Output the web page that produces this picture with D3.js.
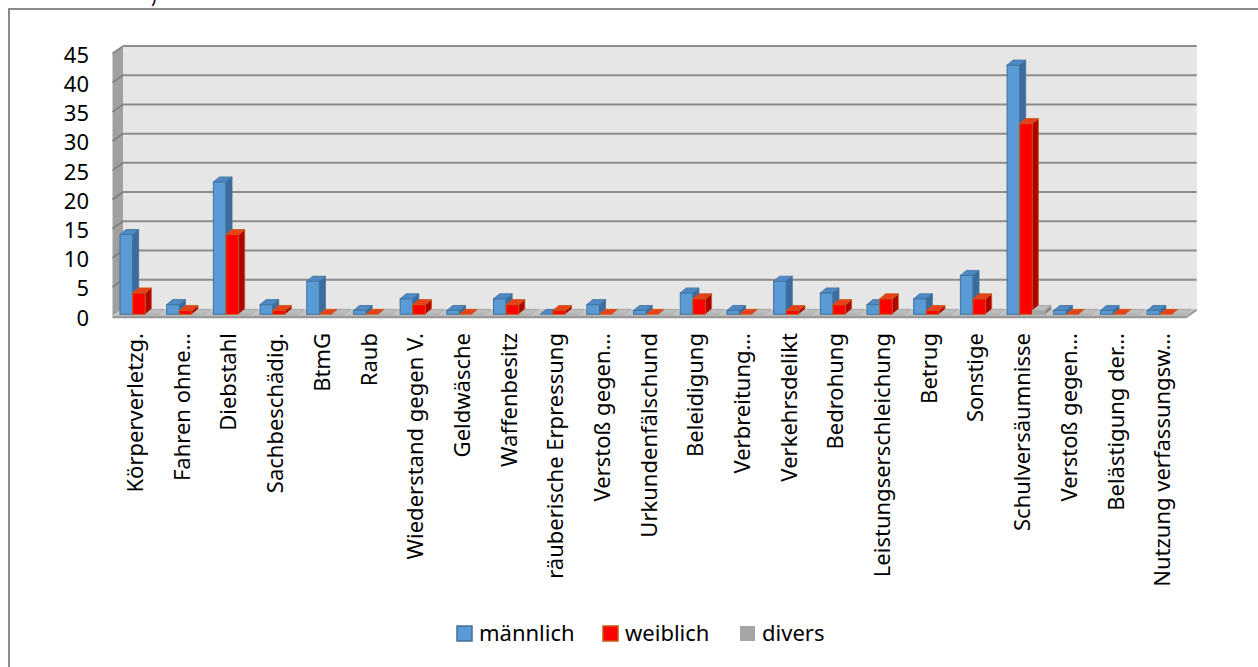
<!DOCTYPE html>
<html>
<head>
<meta charset="utf-8">
<script src="https://cdn.jsdelivr.net/npm/d3@7"></script>
<style>
  html, body { margin: 0; padding: 0; background: #ffffff; }
  svg { display: block; }
  text { font-family: "Noto Sans", Lato, sans-serif; fill: #000; }
</style>
</head>
<body>
<svg id="chart" width="1258" height="667"></svg>
<script>
const categories = [
  "Körperverletzg.", "Fahren ohne…", "Diebstahl", "Sachbeschädig.", "BtmG", "Raub",
  "Wiederstand gegen V.", "Geldwäsche", "Waffenbesitz", "räuberische Erpressung",
  "Verstoß gegen…", "Urkundenfälschund", "Beleidigung", "Verbreitung…", "Verkehrsdelikt",
  "Bedrohung", "Leistungserschleichung", "Betrug", "Sonstige", "Schulversäumnisse",
  "Verstoß gegen…", "Belästigung der…", "Nutzung verfassungsw…"
];
const maennlich = [14, 2, 23, 2, 6, 1, 3, 1, 3, 0, 2, 1, 4, 1, 6, 4, 2, 3, 7, 43, 1, 1, 1];
const weiblich  = [4, 1, 14, 1, 0, 0, 2, 0, 2, 1, 0, 0, 3, 0, 1, 2, 3, 1, 3, 33, 0, 0, 0];
const divers    = [0, 0, 0, 0, 0, 0, 0, 0, 0, 0, 0, 0, 0, 0, 0, 0, 0, 0, 0, 1, 0, 0, 0];
const seriesNames = ["männlich", "weiblich", "divers"];
const yTicks = [0, 5, 10, 15, 20, 25, 30, 35, 40, 45];

const seriesValues = [maennlich, weiblich, divers];
const colors = [
  { front: "#5B9BD5", side: "#3C6C9E", top: "#4F88C2", edge: "#41719C" },
  { front: "#FF0000", side: "#B00000", top: "#E8401A", edge: "#C55A11" },
  { front: "#A5A5A5", side: "#858585", top: "#BDBDBD", edge: "#A5A5A5" }
];

const svg = d3.select("#chart");

// stray clipped text from above the frame
svg.append("text").attr("x", 151).attr("y", 3).style("font-size", "18px").text(")");

// outer frame
svg.append("rect").attr("x", 9).attr("y", 9).attr("width", 1270).attr("height", 680)
  .attr("fill", "#fff").attr("stroke", "#8A8A8A").attr("stroke-width", 2);

// scales
const x = d3.scaleBand().domain(d3.range(categories.length)).range([112.5, 1186.3]).padding(0);
const xs = d3.scaleBand().domain(d3.range(seriesNames.length)).range([7.5, 45.5]).padding(0);
const yF = d3.scaleLinear().domain([0, 45]).range([316.3, 53.4]);
const WDX = 10.5, WDY = -7.4;      // wall depth
const yB = v => yF(v) + WDY;
const BDX = 6, BDY = -5;           // bar depth

const xL = x.range()[0], xR = x.range()[1];

// back wall
svg.append("rect").attr("x", xL + WDX).attr("y", yB(45)).attr("width", xR - xL).attr("height", yB(0) - yB(45))
  .attr("fill", "#E6E6E6");
// left wall
svg.append("path")
  .attr("d", `M${xL},${yF(45)} L${xL + WDX},${yB(45)} L${xL + WDX},${yB(0)} L${xL},${yF(0)} Z`)
  .attr("fill", "#A0A0A0");

// gridlines (back wall + left wall slants)
const grid = svg.append("g");
yTicks.forEach(t => {
  if (t === 0) return;
  grid.append("line").attr("x1", xL + WDX).attr("x2", xR + WDX).attr("y1", yB(t)).attr("y2", yB(t))
    .attr("stroke", "#8C8C8C").attr("stroke-width", 2);
  grid.append("line").attr("x1", xL).attr("y1", yF(t)).attr("x2", xL + WDX).attr("y2", yB(t))
    .attr("stroke", "#7A7A7A").attr("stroke-width", 1.5);
});

// floor
svg.append("path")
  .attr("d", `M${xL},${yF(0) + 1} L${xR},${yF(0) + 1} L${xR + WDX},${yB(0)} L${xL + WDX},${yB(0)} Z`)
  .attr("fill", "#C4C4C4");
svg.append("rect").attr("x", xL).attr("y", yF(0) - 0.5).attr("width", xR - xL).attr("height", 2.5)
  .attr("fill", "#9A9A9A");
svg.append("path")
  .attr("d", `M${xR},${yF(0) - 0.5} L${xR + WDX},${yB(0) - 0.5} L${xR + WDX},${yB(0) + 2} L${xR},${yF(0) + 2} Z`)
  .attr("fill", "#9A9A9A");

// bars
const bars = svg.append("g");
const base = yF(0) - 2;
categories.forEach((c, i) => {
  seriesValues.forEach((vals, s) => {
    const v = vals[i];
    const col = colors[s];
    const x0 = x(i) + xs(s);
    const w = xs.bandwidth();
    const yt = Math.min(yF(v), base);
    const g = bars.append("g");
    if (v > 0) {
      g.append("rect").attr("x", x0).attr("y", yt).attr("width", w).attr("height", base - yt)
        .attr("fill", col.front).attr("stroke", col.edge).attr("stroke-width", 1);
      g.append("path")
        .attr("d", `M${x0 + w},${yt} L${x0 + w + BDX},${yt + BDY} L${x0 + w + BDX},${base + BDY} L${x0 + w},${base} Z`)
        .attr("fill", col.side).attr("stroke", col.edge).attr("stroke-width", 0.8);
    }
    g.append("path")
      .attr("d", `M${x0},${yt} L${x0 + BDX},${yt + BDY} L${x0 + w + BDX},${yt + BDY} L${x0 + w},${yt} Z`)
      .attr("fill", col.top).attr("stroke", col.edge).attr("stroke-width", 0.8);
  });
});

// y axis
const yAxis = svg.append("g").attr("transform", "translate(89,0)")
  .call(d3.axisLeft(yF).tickValues(yTicks).tickSize(0).tickPadding(0));
yAxis.select(".domain").remove();
yAxis.selectAll("text").style("font-size", "22px").style("font-family", "'Noto Sans', sans-serif")
  .attr("fill", "#000").attr("dy", "0.40em");

// x axis labels
const xAxis = svg.append("g").attr("transform", "translate(0,333)")
  .call(d3.axisBottom(x).tickSize(0).tickFormat(i => categories[i]));
xAxis.select(".domain").remove();
xAxis.selectAll("text")
  .attr("transform", "rotate(-90)")
  .attr("x", 0).attr("y", 0).attr("dy", "0.33em")
  .attr("text-anchor", "end")
  .attr("fill", "#000")
  .style("font-size", "22px").style("font-family", "'Noto Sans', sans-serif");

// legend
const legendX = [457, 603, 740];
const leg = svg.append("g");
seriesNames.forEach((n, s) => {
  leg.append("rect").attr("x", legendX[s]).attr("y", 626).attr("width", 15).attr("height", 15)
    .attr("fill", colors[s].front).attr("stroke", s === 2 ? "none" : colors[s].edge).attr("stroke-width", 1.5);
  leg.append("text").attr("x", legendX[s] + 22).attr("y", 641).style("font-size", "22px").text(n);
});
</script>
</body>
</html>
